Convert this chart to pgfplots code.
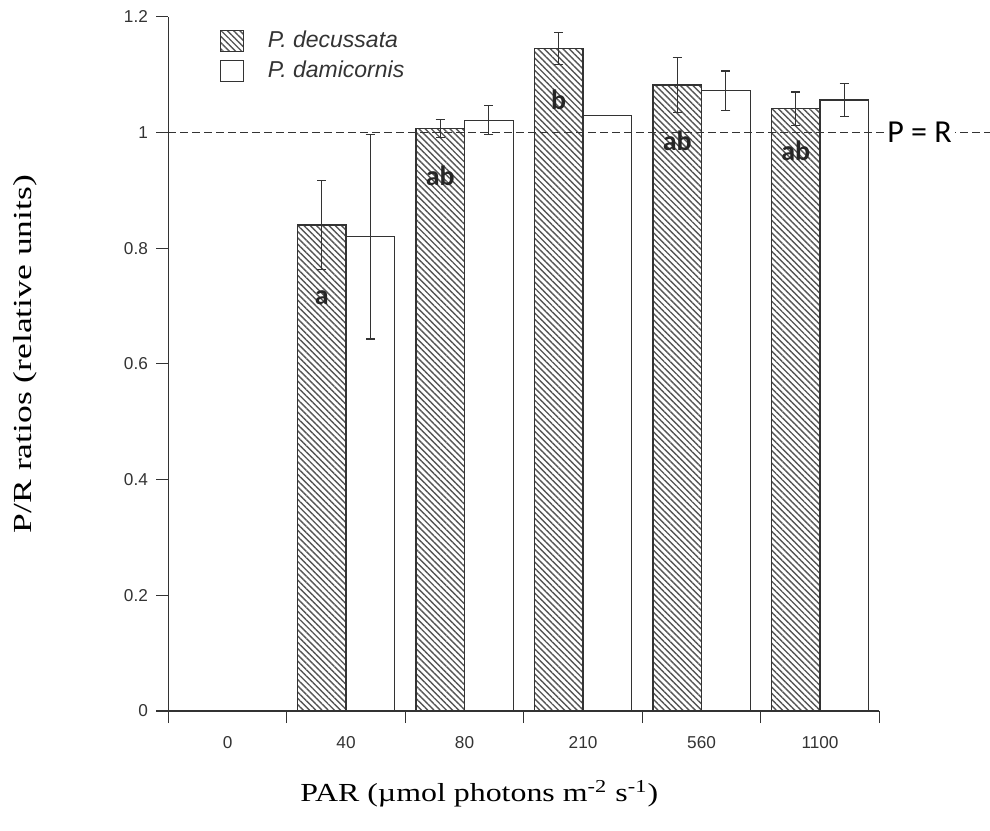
\documentclass[border=0pt]{standalone}
\usepackage{fontspec}
\setmainfont{Liberation Serif}
\newfontfamily\arial{Liberation Sans}
\newfontfamily\calib{Carlito}
\usepackage{graphicx}
\usepackage{pgfplots}
\usepackage{pgfplotstable}
\pgfplotsset{compat=1.18}
\usetikzlibrary{patterns.meta}
\definecolor{ink}{HTML}{333333}
\definecolor{hatch}{HTML}{555555}

\pgfplotstableread{
x y e
1 0.840 0.077
2 1.007 0.016
3 1.145 0.028
4 1.082 0.048
5 1.041 0.029
}\dec

\pgfplotstableread{
x y e
1 0.820 0.177
2 1.021 0.025
3 1.029 0.000
4 1.072 0.034
5 1.056 0.028
}\dam

\begin{document}
\begin{tikzpicture}
\begin{axis}[
  scale only axis, width=355.5pt, height=347.15pt,
  xmin=-0.5, xmax=5.5, ymin=0, ymax=1.2,
  enlargelimits=false, clip=false,
  axis x line=bottom, axis y line=left,
  axis line style={-, draw=ink, line width=0.6pt},
  tick align=outside, major tick length=6pt,
  tick style={draw=ink, line width=0.6pt},
  xtick={-0.5,0.5,1.5,2.5,3.5,4.5,5.5},
  x tick label as interval,
  xticklabels={\mbox{0},\mbox{40},\mbox{80},\mbox{210},\mbox{560},\mbox{1100}},
  ytick={0,0.2,0.4,0.6,0.8,1,1.2},
  /pgf/number format/assume math mode=true,
  xticklabel style={font=\arial\fontsize{8.6}{10}\selectfont, text=ink, anchor=north, inner sep=0pt, yshift=-6.3pt},
  yticklabel style={font=\arial\fontsize{8.6}{10}\selectfont, text=ink, anchor=east, inner sep=0pt, xshift=-4pt},
  xlabel={\resizebox{179pt}{\height}{PAR (µmol photons m\textsuperscript{-2} s\textsuperscript{-1})}},
  xlabel style={at={(axis description cs:0.4374,-0.1306)}, anchor=base, font=\fontsize{13}{15}\selectfont, text=black},
  ylabel={\resizebox{179pt}{\height}{P/R ratios (relative units)}},
  ylabel style={at={(axis description cs:-0.1921,0.514)}, anchor=base, font=\fontsize{13}{15}\selectfont, text=black},
  legend style={at={(axis description cs:0.0724,0.9818)}, anchor=north west, draw=none, fill=none,
    inner sep=0pt, outer sep=0pt, font=\arial\itshape\fontsize{11.5}{13}\selectfont, text=ink,
    row sep=3pt, column sep=11pt,
    nodes={inner sep=1pt, text height=8pt, text depth=2pt}},
  legend cell align=left,
]
\addplot[ybar, bar width=0.41, bar shift=0, draw=ink, line width=0.6pt,
  pattern={Lines[angle=-45, distance=2.2pt, line width=0.7pt]}, pattern color=hatch,
  legend image code/.code={\draw[draw=ink, line width=0.6pt, pattern={Lines[angle=-45, distance=2.2pt, line width=0.7pt]}, pattern color=hatch] (0pt,-5.25pt) rectangle (11.5pt,5.25pt);},
  error bars/.cd, y dir=both, y explicit,
  error bar style={draw=ink, line width=0.6pt},
  error mark options={rotate=90, mark size=2.3pt, draw=ink, line width=0.6pt}]
  table[x expr=\thisrow{x}-0.205, y=y, y error=e]{\dec};
\addlegendentry{P. decussata}
\addplot[ybar, bar width=0.41, bar shift=0, draw=ink, line width=0.6pt, fill=white,
  legend image code/.code={\draw[draw=ink, line width=0.6pt, fill=white] (0pt,-5.25pt) rectangle (11.5pt,5.25pt);},
  error bars/.cd, y dir=both, y explicit,
  error bar style={draw=ink, line width=0.6pt},
  error mark options={rotate=90, mark size=2.3pt, draw=ink, line width=0.6pt}]
  table[x expr=\thisrow{x}+0.205, y=y, y error=e]{\dam};
\addlegendentry{P. damicornis}

\draw[ink, line width=0.6pt, dash pattern=on 4pt off 2pt] (axis cs:-0.5,1) -- (axis cs:6.44,1);
\node[fill=white, inner sep=1.5pt, font=\calib\fontsize{16}{18}\selectfont, text=black] at (axis cs:5.84,1) {P = R};

\begin{scope}[every node/.style={font=\calib\bfseries\fontsize{14}{16}\selectfont, text=black!85, inner sep=0pt}]
\node at (axis cs:0.795,0.715) {a};
\node at (axis cs:1.795,0.925) {ab};
\node at (axis cs:2.795,1.057) {b};
\node at (axis cs:3.795,0.985) {ab};
\node at (axis cs:4.795,0.968) {ab};
\end{scope}
\end{axis}
\pgfresetboundingbox
\useasboundingbox (-84.15pt,-59.5pt) rectangle (410.85pt,355.5pt);
\end{tikzpicture}
\end{document}
